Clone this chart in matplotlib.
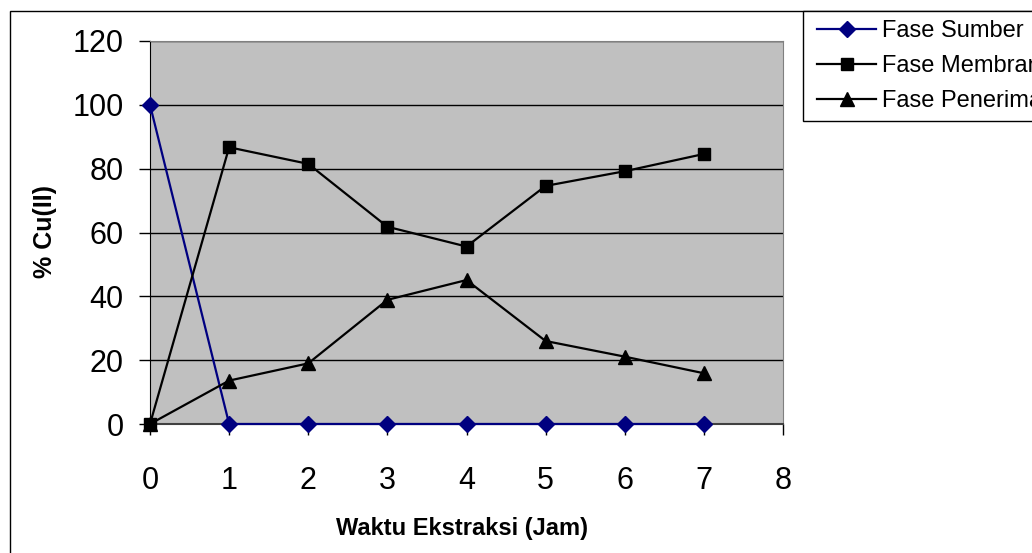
import matplotlib.pyplot as plt
from matplotlib.patches import Rectangle

plt.rcParams['font.family'] = ['Liberation Sans', 'DejaVu Sans']

# data
waktu = [0, 1, 2, 3, 4, 5, 6, 7]
fase_sumber = [100, 0, 0, 0, 0, 0, 0, 0]
fase_membran = [0, 86.7, 81.5, 61.8, 55.6, 74.6, 79.2, 84.6]
fase_penerima = [0, 13.6, 19.0, 38.9, 45.1, 26.0, 21.1, 15.9]
x_ticks = [0, 1, 2, 3, 4, 5, 6, 7, 8]
y_ticks = [0, 20, 40, 60, 80, 100, 120]

W, H = 1032, 553
fig = plt.figure(figsize=(W / 100, H / 100), dpi=100)
ax = fig.add_axes([150 / W, 1 - 424 / H, (783 - 150) / W, (424 - 41) / H])
ax.set_facecolor('#C0C0C0')

# outer chart border (cropped at right/bottom like the original)
fig.patches.append(Rectangle((10 / W, -0.1), 1.2, 1 - 11 / H + 0.1,
                             transform=fig.transFigure, fill=False,
                             edgecolor='black', linewidth=1.0, zorder=0))
# legend box, also running past the right edge
fig.patches.append(Rectangle((803 / W, 1 - 121 / H), 0.5, 110 / H,
                             transform=fig.transFigure, facecolor='white',
                             edgecolor='black', linewidth=1.0, zorder=1))

for y in y_ticks[1:]:
    ax.axhline(y, color='black', linewidth=1.0, zorder=1)

ax.plot(waktu, fase_sumber, color='#000080', marker='D', markersize=8,
        linewidth=1.6, label='Fase Sumber', zorder=3, clip_on=False)
ax.plot(waktu, fase_membran, color='black', marker='s', markersize=9,
        linewidth=1.6, label='Fase Membran', zorder=3, clip_on=False)
ax.plot(waktu, fase_penerima, color='black', marker='^', markersize=10,
        linewidth=1.6, label='Fase Penerima', zorder=3, clip_on=False)

ax.set_xlim(0, 8)
ax.set_ylim(0, 120)
ax.set_xticks(x_ticks)
ax.set_yticks(y_ticks)
ax.tick_params(axis='x', direction='out', length=8, width=1, labelsize=22, pad=22)
ax.tick_params(axis='y', direction='out', length=8, width=1, labelsize=22, pad=11)

for side in ['top', 'right']:
    ax.spines[side].set_color('#808080')
ax.spines['left'].set_color('black')
ax.spines['bottom'].set_color('#404040')
ax.spines['bottom'].set_linewidth(1.5)

fig.text(462 / W, 1 - 528 / H, 'Waktu Ekstraksi (Jam)', fontsize=17,
         fontweight='bold', ha='center', va='center')
fig.text(45 / W, 1 - 232 / H, '% Cu(II)', fontsize=18, fontweight='bold',
         ha='center', va='center', rotation=90)

leg = fig.legend(loc='upper left', bbox_to_anchor=(803 / W, 1 - 6 / H),
                 bbox_transform=fig.transFigure, borderaxespad=0,
                 fontsize=17, frameon=False,
                 handlelength=2.5, handletextpad=0.25, labelspacing=0.55,
                 borderpad=0.6)
leg.set_zorder(2)

fig.savefig('out.png', dpi=100)
